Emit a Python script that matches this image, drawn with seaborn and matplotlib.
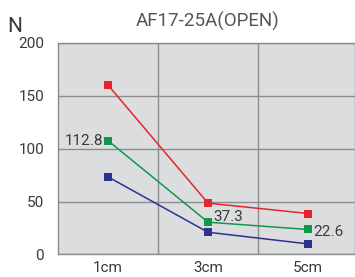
import matplotlib
matplotlib.use("Agg")
import matplotlib.pyplot as plt
import pandas as pd
import seaborn as sns

categories = ["1cm", "3cm", "5cm"]
red_vals = [160, 48.5, 38.7]
green_vals = [107.5, 30.5, 23.6]
blue_vals = [73.3, 21, 10]
green_labels = ["112.8", "37.3", "22.6"]
y_ticks = [0, 50, 100, 150, 200]

rows = []
for name, vals in [("red", red_vals), ("green", green_vals), ("blue", blue_vals)]:
    for i, v in enumerate(vals):
        rows.append({"pos": i, "value": v, "series": name})
df = pd.DataFrame(rows)

sns.set_theme(style="white")
plt.rcParams["font.family"] = ["Roboto", "DejaVu Sans"]
text_col = "#3a3a3a"

fig = plt.figure(figsize=(3.55, 2.77), dpi=100)
ax = fig.add_axes([0.1634, 0.0813, 0.8366, 0.7645])
ax.set_facecolor("#dcdddf")

palette = {"red": "#e3262c", "green": "#10994a", "blue": "#2f3190"}
sns.lineplot(data=df, x="pos", y="value", hue="series", palette=palette,
             marker="s", markersize=5.5, markeredgewidth=0, linewidth=1.1,
             legend=False, ax=ax)

ax.set_xlim(-0.5, 2.47)
ax.set_ylim(0, 200)
ax.set_xticks([0, 1, 2])
ax.set_xticklabels(categories)
ax.set_yticks(y_ticks)
ax.set_xticks([0.5, 1.5], minor=True)
ax.grid(False)
ax.grid(True, which="minor", axis="x", color="#8c8c8c", linewidth=1)
ax.grid(True, which="major", axis="y", color="#8c8c8c", linewidth=1)
ax.tick_params(axis="both", which="both", length=0, labelsize=11, colors=text_col)
ax.tick_params(axis="y", pad=10)
ax.tick_params(axis="x", pad=5)
for s in ["top", "bottom", "left", "right"]:
    ax.spines[s].set_color("#8c8c8c")
    ax.spines[s].set_linewidth(1)
ax.set_xlabel("")
ax.set_ylabel("")

# value labels on the green series
ax.text(-0.05, green_vals[0] - 0.5, green_labels[0], ha="right", va="center",
        fontsize=11, color=text_col)
ax.text(1.05, green_vals[1] + 5, green_labels[1], ha="left", va="center",
        fontsize=11, color=text_col)
ax.text(2.05, green_vals[2] - 2, green_labels[2], ha="left", va="center",
        fontsize=11, color=text_col)

fig.text(0.586, 0.924, "AF17-25A(OPEN)", ha="center", va="center",
         fontsize=13.5, color="#555555")
fig.text(0.042, 0.905, "N", ha="center", va="center", fontsize=15, color=text_col)

fig.savefig("out.png", dpi=100)
